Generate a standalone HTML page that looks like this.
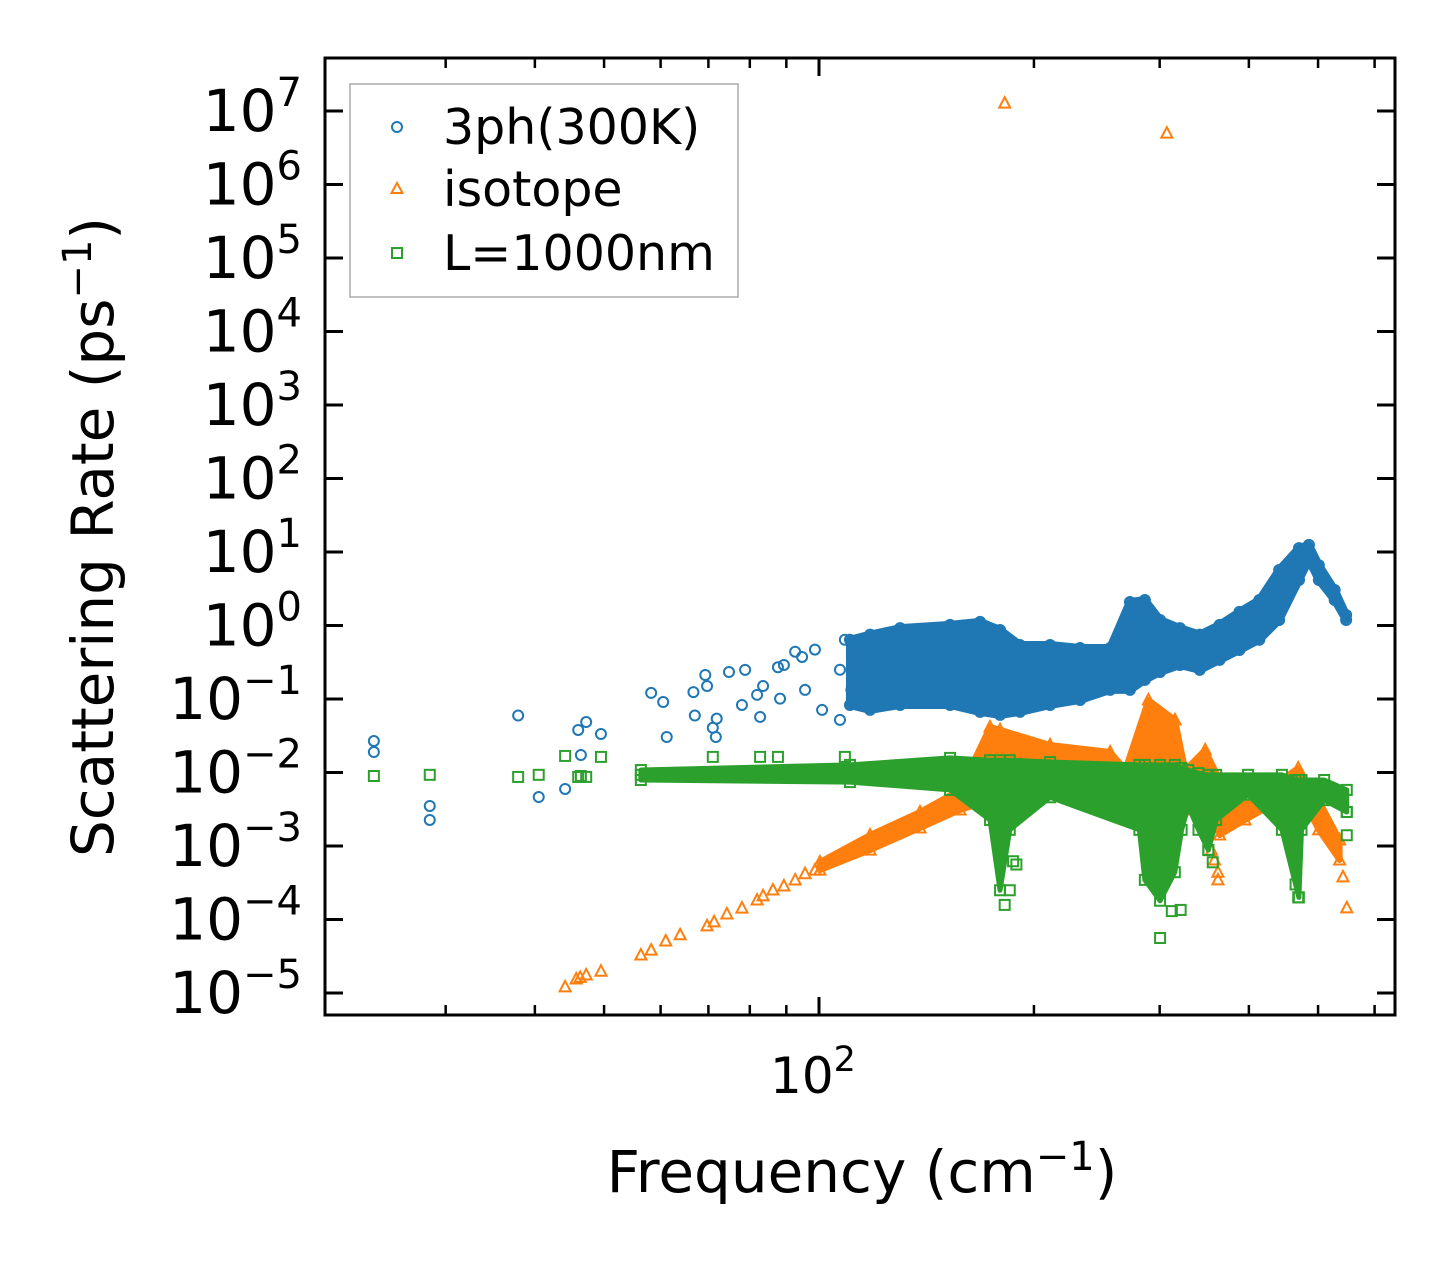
<!DOCTYPE html>
<html><head><meta charset="utf-8"><style>
html,body{margin:0;padding:0;background:#fff;}
svg{display:block;font-family:"DejaVu Sans","Liberation Sans",sans-serif;}
</style></head><body>
<svg id="chart" width="1455" height="1265" viewBox="0 0 1455 1265">
<rect x="0" y="0" width="1455" height="1265" fill="#fff"/>
<g id="marks"></g>
<g id="axes"></g>
<g>
<rect x="350" y="84" width="388" height="213" fill="#fff" fill-opacity="0.8" stroke="#aaa" stroke-width="1.5"/>
<circle cx="397" cy="127" r="5" fill="none" stroke="#1f77b4" stroke-width="2"/>
<text x="443" y="144" font-size="49">3ph(300K)</text>
<path d="M397,183 L402.5,193 L391.5,193 Z" fill="none" stroke="#ff7f0e" stroke-width="2"/>
<text x="443" y="206" font-size="49">isotope</text>
<rect x="392" y="248" width="10" height="10" fill="none" stroke="#2ca02c" stroke-width="2"/>
<text x="443" y="270" font-size="49">L=1000nm</text>
</g>
<text x="862" y="1192" font-size="58" text-anchor="middle">Frequency (cm<tspan dy="-22" font-size="40">−1</tspan><tspan dy="22">)</tspan></text>
<text transform="translate(113,537) rotate(-90)" font-size="58" text-anchor="middle">Scattering Rate (ps<tspan dy="-22" font-size="40">−1</tspan><tspan dy="22">)</tspan></text>
</svg>
<script>
// ---- data ----
const blueF = [23.8,23.8,28.5,28.5,37.9,40.5,44.1,46.0,46.4,47.2,49.5,58.2,60.5,61.2,66.7,67.0,69.7,69.3,71.0,71.9,71.7,74.8,78.0,78.8,81.9,82.7,83.5,87.6,88.2,89.3,92.6,94.7,95.6,98.7,101,107,107,108.7,111,114.9];
const blueR = [0.0268,0.019,0.0035,0.00226,0.0596,0.00464,0.00597,0.0379,0.0173,0.0486,0.0334,0.121,0.091,0.0304,0.124,0.0596,0.150,0.212,0.0406,0.054,0.0304,0.233,0.083,0.249,0.114,0.057,0.150,0.27,0.101,0.29,0.44,0.373,0.133,0.47,0.071,0.25,0.052,0.64,0.133,0.34];
const blueBandF = [110.5,117.9,129.9,152.6,168.1,179.3,191.2,210.7,232.1,255.7,272.6,286,300.4,320.3,341.4,364.0,388.0,413.7,441.0,470.2,485.5,501.3,527.5,547.4];
const blueBandHi = [0.64,0.75,0.92,1.02,1.12,0.87,0.543,0.543,0.494,0.494,2.09,2.22,1.19,0.92,0.75,1.02,1.53,2.22,5.69,11.3,12.5,6.6,3.04,1.39];
const blueBandLo = [0.083,0.071,0.083,0.083,0.0667,0.0607,0.0667,0.083,0.097,0.133,0.133,0.182,0.233,0.29,0.249,0.34,0.464,0.64,1.19,4.16,7.8,4.16,2.22,1.19];

const isoF = [44.1,45.7,46.3,47.2,49.5,56.3,58.2,61.0,63.9,69.7,71.3,74.3,78.0,81.9,83.5,86.2,89.3,92.6,95.6,98.7,354.5,358,362,362,541.8,548.5,182,307];
const isoR = [1.21e-5,1.55e-5,1.63e-5,1.76e-5,1.98e-5,3.29e-5,3.83e-5,5.1e-5,6.2e-5,8.2e-5,9.3e-5,1.19e-4,1.43e-4,1.84e-4,2.1e-4,2.52e-4,2.86e-4,3.45e-4,4.2e-4,4.7e-4,8.8e-4,6.45e-4,4.4e-4,3.46e-4,3.8e-4,1.44e-4,1.28e7,5.0e6];
const isoBandF = [100.3,117.9,138.5,157.6,173.6,179.3,210.7,255.7,268.6,289.3,315.2,325.8,347.4,364,395,469,501,536];
const isoBandHi = [6.05e-4,1.41e-3,2.9e-3,5.8e-3,0.0416,0.038,0.0237,0.019,0.011,0.097,0.0519,0.0108,0.0203,7.9e-3,3.6e-3,0.0115,4.2e-3,1.21e-3];
const isoBandLo = [4.7e-4,8.8e-4,1.76e-3,3.09e-3,4.2e-3,5.8e-3,5.8e-3,4.2e-3,4.2e-3,5.8e-3,4.2e-3,3.09e-3,3.09e-3,1.41e-3,2.26e-3,5.8e-3,1.66e-3,6.45e-4];

const bndF = [23.8,28.5,37.9,40.5,44.1,46.0,46.4,47.2,49.5,56.3,71.0,82.7,87.6,97.2,108.7,182,185,300.4,312,321,469,548.5,548.5,356,351,189,187];
const bndR = [8.96e-3,9.3e-3,8.7e-3,9.3e-3,0.0168,8.7e-3,8.96e-3,8.7e-3,0.0163,9.3e-3,0.0163,0.0163,0.0163,9.3e-3,0.0163,1.58e-4,2.5e-4,5.6e-5,1.3e-4,1.35e-4,2.0e-4,1.4e-3,2.9e-3,6e-4,8.8e-4,5.6e-4,6.2e-4];
const bndBandF = [56.3,110.5,152.6,173.6,179.3,185,210.7,281,286,300.4,315,322,329,340,351,360,399,445,465,470,474,510,548.5];
const bndBandHi = [0.0108,0.0127,0.0158,0.0147,0.0147,0.0147,0.0139,0.0127,0.0127,0.0127,0.0127,0.0115,0.0108,9.8e-3,9.3e-3,9.3e-3,9.3e-3,9.3e-3,7.9e-3,7.9e-3,7.9e-3,7.9e-3,5.8e-3];
const bndBandLo = [7.9e-3,7.4e-3,5.8e-3,2.26e-3,2.5e-4,1.66e-3,4.6e-3,1.66e-3,3.46e-4,1.8e-4,4.4e-4,1.66e-3,3.5e-3,1.66e-3,8.8e-4,2.26e-3,5e-3,1.66e-3,3e-4,2.0e-4,1.66e-3,4.2e-3,2.9e-3];

const yTicks = [-5,-4,-3,-2,-1,0,1,2,3,4,5,6,7];
const xMinor = [30,40,50,60,70,80,90,200,300,400,500,600];

// ---- axes functions ----
const L=325,R=1395,T=58,B=1015;
function xs(f){return 819+714*Math.log10(f/100);}
function ys(v){return 625.5-73.5*Math.log10(v);}
const NS='http://www.w3.org/2000/svg';
const marks=document.getElementById('marks'), axes=document.getElementById('axes');
function mk(tag,attrs,parent){const e=document.createElementNS(NS,tag);for(const k in attrs)e.setAttribute(k,attrs[k]);parent.appendChild(e);return e;}

function band(F,Hi,Lo,color,name,sw){
  let d='M'+F.map((f,i)=>xs(f)+','+ys(Hi[i])).join(' L');
  for(let i=F.length-1;i>=0;i--) d+=' L'+xs(F[i])+','+ys(Lo[i]);
  d+=' Z';
  const p=mk('path',{d:d,fill:color,stroke:color,'stroke-width':sw,'stroke-linejoin':'round'},marks);
  
  
}
function circle(f,v,name){
  const c=mk('circle',{cx:xs(f),cy:ys(v),r:5,fill:'none',stroke:'#1f77b4','stroke-width':2},marks);
  
  
}
function tri(f,v,name){
  const x=xs(f),y=ys(v);
  const p=mk('path',{d:`M${x},${y-6} L${x+5.5},${y+4.5} L${x-5.5},${y+4.5} Z`,fill:'none',stroke:'#ff7f0e','stroke-width':2},marks);
  
  
}
function sq(f,v,name){
  const x=xs(f),y=ys(v);
  const p=mk('rect',{x:x-5,y:y-5,width:10,height:10,fill:'none',stroke:'#2ca02c','stroke-width':2},marks);
  
  
}

band(blueBandF,blueBandHi,blueBandLo,'#1f77b4','3ph-band',8);
blueBandF.forEach((f,i)=>{circle(f,blueBandHi[i],'3ph-point');circle(f,blueBandLo[i],'3ph-point');});
blueF.forEach((f,i)=>circle(f,blueR[i],'3ph-point'));
band(isoBandF,isoBandHi,isoBandLo,'#ff7f0e','isotope-band',6);
isoBandF.forEach((f,i)=>{tri(f,isoBandHi[i],'isotope-point');tri(f,isoBandLo[i],'isotope-point');});
isoF.forEach((f,i)=>tri(f,isoR[i],'isotope-point'));
band(bndBandF,bndBandHi,bndBandLo,'#2ca02c','boundary-band',5);
bndBandF.forEach((f,i)=>{sq(f,bndBandHi[i],'boundary-point');sq(f,bndBandLo[i],'boundary-point');});
bndF.forEach((f,i)=>sq(f,bndR[i],'boundary-point'));

// frame
const fr=mk('rect',{x:L,y:T,width:R-L,height:B-T,fill:'none',stroke:'#000','stroke-width':3},axes);


yTicks.forEach(e=>{
  const y=ys(Math.pow(10,e));
  const t1=mk('line',{x1:L,x2:L+18,y1:y,y2:y,stroke:'#000','stroke-width':3},axes);
  
  
  const t2=mk('line',{x1:R,x2:R-18,y1:y,y2:y,stroke:'#000','stroke-width':3},axes);
  
  
  const tx=mk('text',{x:302,y:y+20,'font-size':58,'text-anchor':'end'},axes);
  
  
  const base=document.createElementNS(NS,'tspan');base.textContent='10';tx.appendChild(base);
  const sup=document.createElementNS(NS,'tspan');sup.setAttribute('dy','-25');sup.setAttribute('font-size','40');
  sup.textContent=(e<0?'−':'')+Math.abs(e);tx.appendChild(sup);
});
xMinor.forEach(f=>{
  const x=xs(f);
  const a=mk('line',{x1:x,x2:x,y1:B,y2:B-10,stroke:'#000','stroke-width':2.5},axes);
  
  
  const b=mk('line',{x1:x,x2:x,y1:T,y2:T+10,stroke:'#000','stroke-width':2.5},axes);
  
  
});
{
  const x=xs(100);
  const a=mk('line',{x1:x,x2:x,y1:B,y2:B-18,stroke:'#000','stroke-width':3},axes);
  
  
  const b=mk('line',{x1:x,x2:x,y1:T,y2:T+18,stroke:'#000','stroke-width':3},axes);
  
  
  const tx=mk('text',{x:x-6,y:1093,'font-size':50,'text-anchor':'middle'},axes);
  
  
  tx.innerHTML='10<tspan dy="-22" font-size="35">2</tspan>';
}
</script>
</body></html>
